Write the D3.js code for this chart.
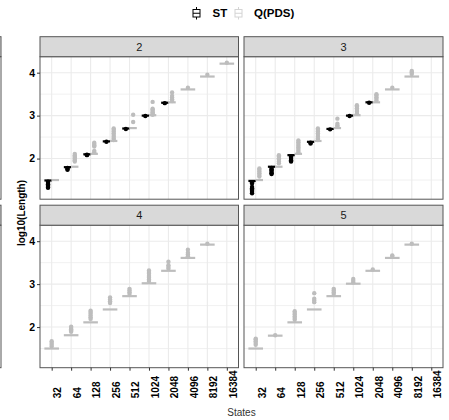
<!DOCTYPE html>
<html>
<head>
<meta charset="utf-8">
<script src="https://cdn.jsdelivr.net/npm/d3@7/dist/d3.min.js"></script>
<style>
  body { margin: 0; background: #fff; }
  svg { display: block; font-family: "Liberation Sans", Arial, Helvetica, sans-serif; }
</style>
</head>
<body>
<svg id="chart" width="449" height="420"></svg>
<script>
// Categories
const states = ["32", "64", "128", "256", "512", "1024", "2048", "4096", "8192", "16384"];
const facets = ["2", "3", "4", "5"];
const seriesNames = ["ST", "Q(PDS)"];
const seriesColors = ["#000000", "#bdbdbd"];
const yTicks = [2, 3, 4];
const yMinor = [1.5, 2.5, 3.5];

// Box medians, one row per facet (null = no box for that state)
const stMedian = [
  [1.49, 1.80, 2.10, 2.40, 2.70, 3.00, 3.30, null, null, null],
  [1.48, 1.81, 2.08, 2.39, 2.69, 3.00, 3.31, null, null, null],
  [null, null, null, null, null, null, null, null, null, null],
  [null, null, null, null, null, null, null, null, null, null]
];
const qMedian = [
  [1.50, 1.81, 2.11, 2.41, 2.71, 3.01, 3.31, 3.61, 3.91, 4.21],
  [1.50, 1.81, 2.11, 2.41, 2.71, 3.01, 3.31, 3.61, 3.91, null],
  [1.50, 1.81, 2.11, 2.41, 2.72, 3.02, 3.31, 3.61, 3.92, null],
  [1.50, 1.80, 2.11, 2.41, 2.72, 3.01, 3.31, 3.61, 3.92, null]
];

// Outlying runs, one list per state
const stOutliers = [
  [[1.46, 1.43, 1.40, 1.37, 1.34, 1.32], [1.78, 1.76, 1.74], [2.09, 2.08], [2.39], [2.69], [2.99], [3.29], [], [], []],
  [[1.45, 1.42, 1.34, 1.31, 1.28, 1.25, 1.22, 1.19], [1.78, 1.75, 1.72, 1.69, 1.66, 1.64], [2.05, 2.02, 1.99, 1.96, 1.93], [2.37, 2.35], [2.68], [2.99], [3.30], [], [], []],
  [[], [], [], [], [], [], [], [], [], []],
  [[], [], [], [], [], [], [], [], [], []]
];
const qOutliers = [
  [[], [1.93, 1.96, 1.99, 2.02, 2.05, 2.08, 2.11], [2.15, 2.18, 2.28, 2.31, 2.34, 2.37], [2.43, 2.47, 2.51, 2.55, 2.59, 2.63, 2.67, 2.70], [2.85, 3.02], [3.02, 3.05, 3.08, 3.11, 3.14, 3.16, 3.32], [3.34, 3.38, 3.42, 3.46, 3.54], [3.65], [3.95], [4.23]],
  [[1.58, 1.62, 1.66, 1.70, 1.74, 1.77], [1.89, 1.93, 1.97, 2.01, 2.05, 2.08], [2.14, 2.18, 2.22, 2.26, 2.30, 2.34, 2.38, 2.42], [2.43, 2.47, 2.51, 2.55, 2.59, 2.63, 2.67, 2.70], [2.74, 2.77, 2.81, 2.93], [3.05, 3.09, 3.13, 3.17, 3.21, 3.24], [3.35, 3.39, 3.43, 3.47, 3.50], [3.65], [3.97, 4.01, 4.04], []],
  [[1.55, 1.59, 1.63, 1.67], [1.89, 1.92, 1.95, 1.98, 2.01], [2.19, 2.23, 2.27, 2.31, 2.35, 2.38], [2.56, 2.60, 2.64, 2.69], [2.77, 2.81, 2.85, 2.89], [3.07, 3.11, 3.15, 3.19, 3.24, 3.28, 3.32], [3.36, 3.40, 3.44, 3.52], [3.65, 3.69, 3.73, 3.80], [3.94], []],
  [[1.59, 1.63, 1.67, 1.71, 1.73], [1.81], [2.17, 2.21, 2.25, 2.29, 2.33, 2.37], [2.58, 2.62, 2.66, 2.79], [2.77, 2.81, 2.85, 2.89], [3.04, 3.08, 3.12], [3.34], [3.64, 3.67], [3.94], []]
];

const medians = [stMedian, qMedian];
const outliers = [stOutliers, qOutliers];

// Layout
const fontStack = '"Liberation Sans", Arial, Helvetica, sans-serif';
const colX = [40, 244], colW = [198.5, 199];
const rowY = [56.7, 225.2], panelH = 142.5, stripH = 20;
const yDomain = [1.054, 4.372];
const borderColor = "#555";
const gridColor = "#ebebeb";

const svg = d3.select("#chart");

// Edge of the neighbouring panel column, cut at the left margin
rowY.forEach(y0 => {
  svg.append("rect").attr("x", -200).attr("y", y0 - stripH).attr("width", 201).attr("height", stripH)
    .attr("fill", "#d9d9d9").attr("stroke", borderColor);
  svg.append("rect").attr("x", -200).attr("y", y0).attr("width", 201).attr("height", panelH)
    .attr("fill", "none").attr("stroke", borderColor);
});

facets.forEach((facet, fi) => {
  const col = fi % 2, row = Math.floor(fi / 2);
  const x0 = colX[col], w = colW[col], y0 = rowY[row];

  const x = d3.scalePoint().domain(states).range([x0, x0 + w]).padding(0.6);
  const y = d3.scaleLinear().domain(yDomain).range([y0 + panelH, y0]);
  const g = svg.append("g");

  // grid
  g.selectAll("line.minor").data(yMinor).join("line")
    .attr("x1", x0).attr("x2", x0 + w)
    .attr("y1", d => y(d)).attr("y2", d => y(d))
    .attr("stroke", gridColor).attr("stroke-width", 0.7);
  g.selectAll("line.major").data(yTicks).join("line")
    .attr("x1", x0).attr("x2", x0 + w)
    .attr("y1", d => y(d)).attr("y2", d => y(d))
    .attr("stroke", gridColor).attr("stroke-width", 1.1);
  g.selectAll("line.vgrid").data(states).join("line")
    .attr("x1", d => x(d)).attr("x2", d => x(d))
    .attr("y1", y0).attr("y2", y0 + panelH)
    .attr("stroke", gridColor).attr("stroke-width", 1.1);

  // boxes, dodged by series within each state
  const boxW = 0.75 * x.step();
  states.forEach((s, si) => {
    const present = [0, 1].filter(k => medians[k][fi][si] !== null);
    const sub = boxW / present.length;
    present.forEach((k, j) => {
      const cx = x(s) - boxW / 2 + sub * (j + 0.5);
      const color = seriesColors[k];
      outliers[k][fi][si].forEach(v => {
        g.append("circle").attr("cx", cx).attr("cy", y(v)).attr("r", 2.2).attr("fill", color);
      });
      const m = medians[k][fi][si];
      g.append("line")
        .attr("x1", cx - sub / 2).attr("x2", cx + sub / 2)
        .attr("y1", y(m)).attr("y2", y(m))
        .attr("stroke", color).attr("stroke-width", 2.2);
    });
  });

  // panel border
  g.append("rect").attr("x", x0).attr("y", y0).attr("width", w).attr("height", panelH)
    .attr("fill", "none").attr("stroke", borderColor).attr("stroke-width", 1);

  // strip
  g.append("rect").attr("x", x0).attr("y", y0 - stripH).attr("width", w).attr("height", stripH)
    .attr("fill", "#d9d9d9").attr("stroke", borderColor).attr("stroke-width", 1);
  g.append("text").attr("x", x0 + w / 2).attr("y", y0 - stripH / 2)
    .attr("text-anchor", "middle").attr("dominant-baseline", "central")
    .attr("font-size", 11).attr("fill", "#1a1a1a").text(facet);

  // y axis on left column
  if (col === 0) {
    const ay = g.append("g").attr("transform", `translate(${x0},0)`)
      .call(d3.axisLeft(y).tickValues(yTicks).tickSize(3).tickPadding(2).tickFormat(d3.format("d")))
      .attr("font-family", fontStack);
    ay.select(".domain").remove();
    ay.selectAll(".tick line").attr("stroke", "#333");
    ay.selectAll(".tick text").attr("font-size", 10.5).attr("font-weight", "bold").attr("fill", "#000");
  }

  // x axis on bottom row
  if (row === 1) {
    const ax = g.append("g").attr("transform", `translate(0,${y0 + panelH})`)
      .call(d3.axisBottom(x).tickSize(3).tickPadding(0))
      .attr("font-family", fontStack);
    ax.select(".domain").remove();
    ax.selectAll(".tick line").attr("stroke", "#333");
    ax.selectAll(".tick text")
      .attr("font-size", 10).attr("font-weight", "bold").attr("fill", "#000")
      .attr("text-anchor", "start").attr("dy", null).attr("y", null)
      .attr("transform", "translate(9.3,30.5) rotate(-90)");
  }
});

// axis titles
svg.append("text").attr("x", 241.5).attr("y", 416).attr("text-anchor", "middle")
  .attr("font-size", 10).attr("fill", "#333").text("States");
svg.append("text").attr("transform", "translate(25.2,213) rotate(-90)").attr("text-anchor", "middle")
  .attr("font-size", 10).attr("font-weight", "bold").attr("fill", "#000").text("log10(Length)");

// legend
const legendX = [193, 235];
seriesNames.forEach((name, k) => {
  const lg = svg.append("g").attr("transform", `translate(${legendX[k]},0)`);
  const c = k === 0 ? seriesColors[0] : "#d4d4d4";
  lg.append("line").attr("x1", 3.5).attr("x2", 3.5).attr("y1", 7).attr("y2", 19.5).attr("stroke", c);
  lg.append("rect").attr("x", 0).attr("y", 9.5).attr("width", 7).attr("height", 7.5)
    .attr("fill", "#fff").attr("stroke", c);
  lg.append("line").attr("x1", 0).attr("x2", 7).attr("y1", 13.25).attr("y2", 13.25).attr("stroke", c);
  lg.append("text").attr("x", k === 0 ? 19.5 : 19).attr("y", 17.2)
    .attr("font-size", 11.5).attr("font-weight", "bold").attr("fill", "#000").text(name);
});
</script>
</body>
</html>
